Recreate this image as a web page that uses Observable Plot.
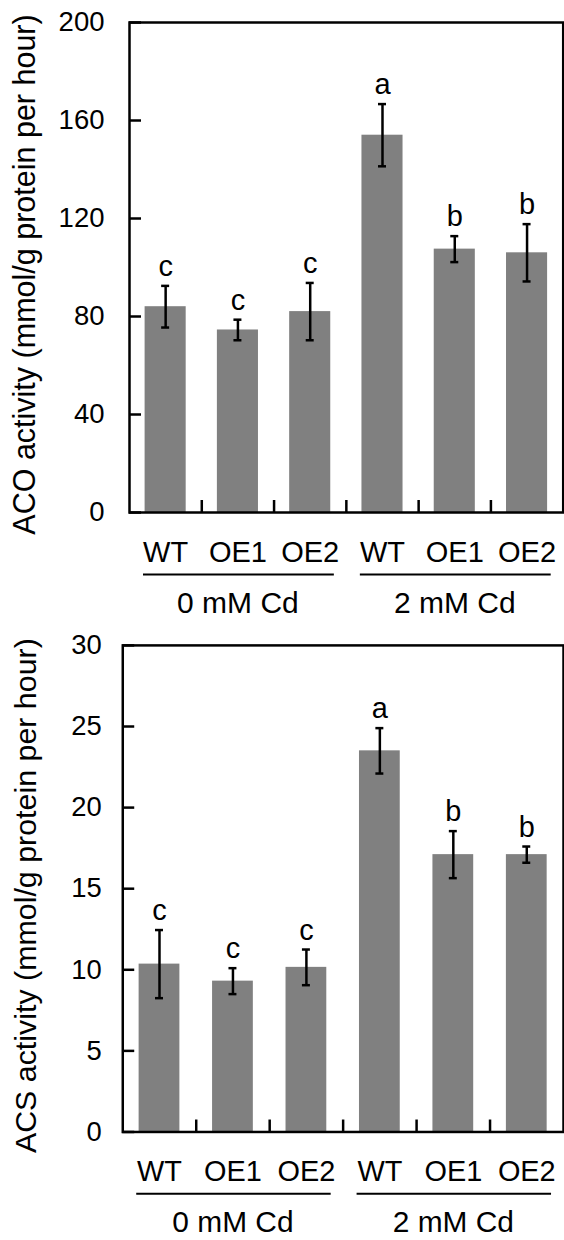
<!DOCTYPE html>
<html><head><meta charset="utf-8">
<script src="https://cdn.jsdelivr.net/npm/d3@7"></script>
<script src="https://cdn.jsdelivr.net/npm/@observablehq/plot@0.6"></script>
<style>
html,body{margin:0;padding:0;background:#fff;overflow:hidden;}
#wrap{position:relative;width:564px;height:1240px;overflow:hidden;background:#fff;}
#wrap svg{position:absolute;left:0;}
</style></head><body><div id="wrap"></div>
<script>
const categories = ["WT", "OE1", "OE2", "WT", "OE1", "OE2"];
const groups = ["0 mM Cd", "2 mM Cd"];

const acoMean = [84, 74.5, 82, 154, 107.5, 106];
const acoErr = [8.5, 4.2, 11.7, 12.7, 5.3, 11.7];
const acoLetters = ["c", "c", "c", "a", "b", "b"];
const acoTicks = [0, 40, 80, 120, 160, 200];

const acsMean = [10.35, 9.3, 10.15, 23.5, 17.1, 17.1];
const acsErr = [2.1, 0.8, 1.1, 1.4, 1.45, 0.5];
const acsLetters = ["c", "c", "c", "a", "b", "b"];
const acsTicks = [0, 5, 10, 15, 20, 25, 30];

const FONT = "'Liberation Sans', Arial, Helvetica, sans-serif";

function panel(o) {
  const data = categories.map((c, i) => ({
    i, cat: c, mean: o.mean[i], lo: o.mean[i] - o.err[i], hi: o.mean[i] + o.err[i], letter: o.letters[i]
  }));
  const gdata = groups.map((g, k) => ({k, g}));
  const c = d => d.i + 0.5;
  const plot = Plot.plot({
    width: o.width, height: 620,
    marginLeft: o.ml, marginRight: o.mr, marginTop: o.mt, marginBottom: o.mb,
    x: {domain: [0, 6], axis: null},
    y: {domain: [0, o.ticks[o.ticks.length - 1]], axis: null},
    style: {fontFamily: FONT, color: "black", background: "transparent", overflow: "visible"},
    marks: [
      Plot.rectY(data, {x1: "i", x2: d => d.i + 1, y: "mean", fill: "#808080", insetLeft: o.inset, insetRight: o.inset}),
      Plot.ruleX(data, {x: c, y1: "lo", y2: "hi", stroke: "black", strokeWidth: 2.5}),
      Plot.ruleY(data, {x1: c, x2: c, y: "hi", insetLeft: -4, insetRight: -4, stroke: "black", strokeWidth: 2.5}),
      Plot.ruleY(data, {x1: c, x2: c, y: "lo", insetLeft: -4, insetRight: -4, stroke: "black", strokeWidth: 2.5}),
      Plot.text(data, {x: c, y: "hi", text: "letter", dy: -10, lineAnchor: "bottom", fontSize: 29, fill: "black"}),
      Plot.frame({stroke: "black", strokeWidth: 2.5}),
      Plot.axisY({ticks: o.ticks, tickSize: 0, tickPadding: o.tickPad, fontSize: 27.5, tickFormat: d => String(d), label: null}),
      Plot.axisY({ticks: o.ticks, tickSize: 12, dx: 12, strokeWidth: 2.5, tickFormat: () => "", label: null}),
      Plot.axisX({ticks: [1, 2, 3, 4, 5], tickSize: 12, dy: -12, strokeWidth: 2.5, tickFormat: () => "", label: null}),
      Plot.text(data, {x: c, y: 0, text: "cat", dy: 49, lineAnchor: "bottom", fontSize: 29, fill: "black"}),
      Plot.ruleY(gdata, {x1: d => d.k * 3, x2: d => d.k * 3 + 3, y: 0, dy: 62, insetLeft: 14, insetRight: 12, stroke: "black", strokeWidth: 2}),
      Plot.text(gdata, {x: d => d.k * 3 + 1.5, y: 0, text: "g", dy: 100, lineAnchor: "bottom", fontSize: 30, fill: "black"}),
      Plot.text([o.label], {frameAnchor: "left", textAnchor: "middle", rotate: -90, dx: o.labelDx, dy: 7, fontSize: 30.5, fill: "black"})
    ]
  });
  plot.style.top = o.top + "px";
  return plot;
}

const wrap = document.getElementById("wrap");
wrap.appendChild(panel({
  mean: acoMean, err: acoErr, letters: acoLetters, ticks: acoTicks,
  label: "ACO activity (mmol/g protein per hour)",
  width: 564, ml: 129, mr: 1.3, mt: 22, mb: 108, inset: 15.6, tickPad: 25, labelDx: -104, top: 0
}));
wrap.appendChild(panel({
  mean: acsMean, err: acsErr, letters: acsLetters, ticks: acsTicks,
  label: "ACS activity (mmol/g protein per hour)",
  width: 566, ml: 122.7, mr: 1, mt: 25, mb: 106.7, inset: 16.4, tickPad: 21, labelDx: -97, top: 620
}));
</script></body></html>
